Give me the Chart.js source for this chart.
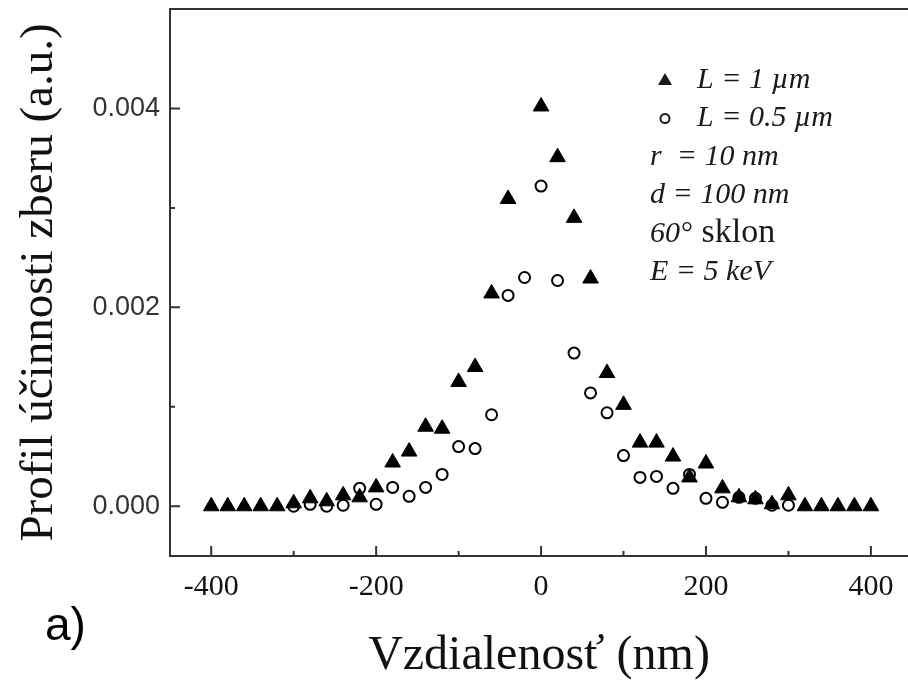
<!DOCTYPE html>
<html>
<head>
<meta charset="utf-8">
<script src="https://cdn.jsdelivr.net/npm/chart.js@4/dist/chart.umd.min.js"></script>
<style>
  html, body { margin: 0; padding: 0; background: #fff; }
  #wrap { width: 908px; height: 682px; position: relative; }
</style>
</head>
<body>
<div id="wrap"><canvas id="chart"></canvas></div>
<script>
// L = 1 um (filled triangles)
const xTri = [-400, -380, -360, -340, -320, -300, -280, -260, -240, -220, -200, -180, -160, -140, -120, -100, -80, -60, -40,
              0, 20, 40, 60, 80, 100, 120, 140, 160, 180, 200, 220, 240, 260, 280, 300, 320, 340, 360, 380, 400];
const yTri = [0, 0, 0, 0, 0, 0.00003, 0.00008, 0.00005, 0.00011, 0.00009, 0.00019, 0.00044, 0.00055, 0.0008, 0.00078, 0.00125, 0.0014, 0.00214, 0.00309,
              0.00402, 0.00351, 0.0029, 0.00229, 0.00134, 0.00102, 0.00064, 0.00064, 0.0005, 0.00029, 0.00043, 0.00018, 0.00009, 0.00007, 0.00002, 0.00011, 0, 0, 0, 0, 0];

// L = 0.5 um (open circles)
const xCirc = [-300, -280, -260, -240, -220, -200, -180, -160, -140, -120, -100, -80, -60, -40, -20,
               0, 20, 40, 60, 80, 100, 120, 140, 160, 180, 200, 220, 240, 260, 280, 300];
const yCirc = [0, 0.00002, 0, 0.00001, 0.00018, 0.00002, 0.00019, 0.0001, 0.00019, 0.00032, 0.0006, 0.00058, 0.00092, 0.00212, 0.0023,
               0.00322, 0.00227, 0.00154, 0.00114, 0.00094, 0.00051, 0.00029, 0.0003, 0.00018, 0.00032, 0.00008, 0.00004, 0.00009, 0.00008, 0.00001, 0.00001];

const xLabelTicks = [-400, -200, 0, 200, 400];
const xMinorTicks = [-300, -100, 100, 300];
const yLabelTicks = [0, 0.002, 0.004];
const yMinorTicks = [0.001, 0.003];

const legendLines = [
  { marker: 'triangle', text: 'L = 1 \u00b5m' },
  { marker: 'circle', text: 'L = 0.5 \u00b5m' },
  { text: 'r  = 10 nm' },
  { text: 'd = 100 nm' },
  { text: '60\u00b0', extra: 'sklon' },
  { text: 'E = 5 keV' }
];

const ink = '#1a1a1a';

// keep the plot box fixed: no extra room for edge labels
function noPad(s) {
  s.paddingTop = 0; s.paddingBottom = 0; s.paddingLeft = 0; s.paddingRight = 0;
}

const decor = {
  id: 'decor',
  afterDraw(chart) {
    const ctx = chart.ctx;
    const area = chart.chartArea;
    const xs = chart.scales.x, ys = chart.scales.y;
    ctx.save();
    ctx.strokeStyle = '#333';
    ctx.lineWidth = 2;
    // top frame line
    ctx.beginPath();
    ctx.moveTo(area.left - 1, area.top);
    ctx.lineTo(area.right, area.top);
    ctx.stroke();
    // inward ticks
    ctx.beginPath();
    xLabelTicks.forEach(v => { const p = xs.getPixelForValue(v); ctx.moveTo(p, area.bottom); ctx.lineTo(p, area.bottom - 10); });
    xMinorTicks.forEach(v => { const p = xs.getPixelForValue(v); ctx.moveTo(p, area.bottom); ctx.lineTo(p, area.bottom - 5); });
    yLabelTicks.forEach(v => { const p = ys.getPixelForValue(v); ctx.moveTo(area.left, p); ctx.lineTo(area.left + 10, p); });
    yMinorTicks.forEach(v => { const p = ys.getPixelForValue(v); ctx.moveTo(area.left, p); ctx.lineTo(area.left + 5, p); });
    ctx.stroke();

    // legend / annotation
    ctx.fillStyle = ink;
    ctx.strokeStyle = ink;
    ctx.textBaseline = 'middle';
    let y = 80;
    legendLines.forEach(line => {
      let tx = 650;
      if (line.marker === 'triangle') {
        ctx.beginPath();
        ctx.moveTo(665, y - 7);
        ctx.lineTo(672, y + 5);
        ctx.lineTo(658, y + 5);
        ctx.closePath();
        ctx.fill();
        tx = 697;
      } else if (line.marker === 'circle') {
        ctx.beginPath();
        ctx.lineWidth = 2;
        ctx.arc(665, y, 4.5, 0, Math.PI * 2);
        ctx.stroke();
        tx = 697;
      }
      ctx.font = 'italic 30px "Liberation Serif"';
      ctx.fillText(line.text, tx, y);
      if (line.extra) {
        const w = ctx.measureText(line.text + ' ').width;
        ctx.font = '34px "Liberation Serif"';
        ctx.fillText(line.extra, tx + w + 2, y - 1);
      }
      y += 38.5;
    });

    // panel label
    ctx.font = '46px "Liberation Sans"';
    ctx.fillStyle = '#000';
    ctx.fillText('a)', 45, 627);
    ctx.restore();
  }
};

new Chart(document.getElementById('chart'), {
  type: 'scatter',
  data: {
    datasets: [
      {
        label: 'L = 1 \u00b5m',
        data: xTri.map((x, i) => ({ x: x, y: yTri[i] })),
        pointStyle: 'triangle',
        pointRadius: 9,
        pointHoverRadius: 9,
        backgroundColor: '#000',
        borderColor: '#000',
        borderWidth: 1
      },
      {
        label: 'L = 0.5 \u00b5m',
        data: xCirc.map((x, i) => ({ x: x, y: yCirc[i] })),
        pointStyle: 'circle',
        pointRadius: 5.5,
        pointHoverRadius: 5.5,
        backgroundColor: 'rgba(255,255,255,0)',
        borderColor: '#000',
        borderWidth: 2
      }
    ]
  },
  options: {
    responsive: true,
    maintainAspectRatio: false,
    animation: false,
    layout: { autoPadding: false, padding: { top: 9, right: 0, left: 0, bottom: 0 } },
    plugins: {
      legend: { display: false },
      tooltip: { enabled: false }
    },
    scales: {
      x: {
        type: 'linear',
        min: -450,
        max: 445,
        afterBuildTicks: s => { s.ticks = xLabelTicks.map(v => ({ value: v })); },
        afterFit: s => { s.height = 126; noPad(s); },
        grid: { display: false },
        border: { display: true, color: '#333', width: 2 },
        ticks: {
          padding: 5,
          color: '#111',
          maxRotation: 0,
          autoSkip: false,
          font: { family: '"Liberation Serif"', size: 30 },
          callback: v => String(v)
        },
        title: {
          display: true,
          text: 'Vzdialenos\u0165 (nm)',
          color: '#111',
          font: { family: '"Liberation Serif"', size: 48, lineHeight: 1 },
          padding: { top: 0, bottom: 2 }
        }
      },
      y: {
        min: -0.0005,
        max: 0.005,
        afterBuildTicks: s => { s.ticks = yLabelTicks.map(v => ({ value: v })); },
        afterFit: s => { s.width = 170; noPad(s); },
        grid: { display: false },
        border: { display: true, color: '#333', width: 2 },
        ticks: {
          padding: 2,
          color: '#333',
          autoSkip: false,
          font: { family: '"Liberation Sans"', size: 27 },
          callback: v => v.toFixed(3)
        },
        title: {
          display: true,
          text: 'Profil \u00fa\u010dinnosti zberu (a.u.)',
          color: '#111',
          font: { family: '"Liberation Serif"', size: 47, lineHeight: 1 },
          padding: { top: 16, bottom: 0 }
        }
      }
    }
  },
  plugins: [decor]
});
</script>
</body>
</html>
